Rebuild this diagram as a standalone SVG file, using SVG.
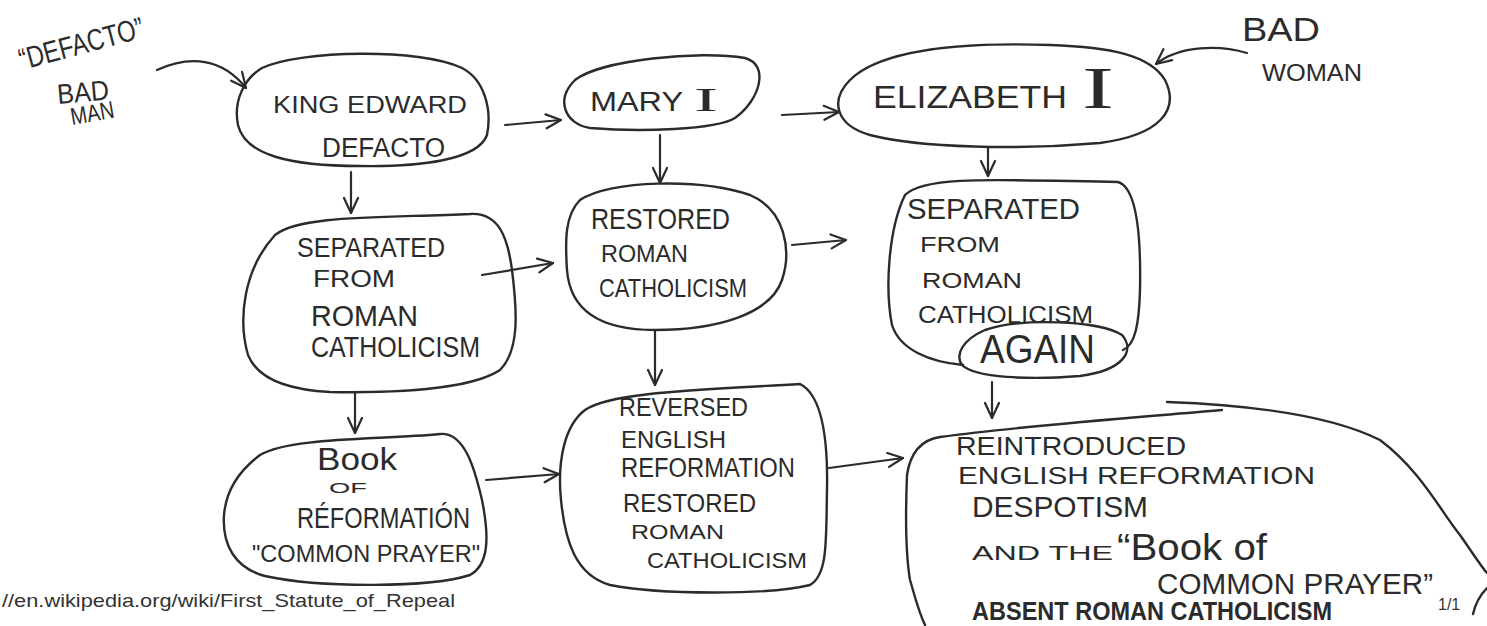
<svg xmlns="http://www.w3.org/2000/svg" width="1487" height="626" viewBox="0 0 1487 626">
<style>
.shape{fill:none;stroke:#2b2b2b;stroke-width:2.4;stroke-linecap:round;stroke-linejoin:round}
.conn{fill:none;stroke:#2b2b2b;stroke-width:2.2;stroke-linecap:round}
.hand{font-family:"Liberation Sans",Arial,sans-serif;fill:#2b2b2b}
.roman{font-family:"Liberation Serif","Times New Roman",serif;fill:#2b2b2b}
.print{font-family:"Liberation Sans",Arial,sans-serif;fill:#333}
</style>
<defs>
<marker id="v" viewBox="0 0 20 20" refX="18" refY="10" markerWidth="20" markerHeight="20" markerUnits="userSpaceOnUse" orient="auto">
<path d="M3,3 L18,10 L3,17" fill="none" stroke="#2b2b2b" stroke-width="2.2" stroke-linecap="round" stroke-linejoin="round"/>
</marker>
</defs>
<rect width="1487" height="626" fill="#fff"/>

<g id="label-defacto">
<text class="hand" transform="translate(22,70) rotate(-15)" font-size="30" textLength="128" lengthAdjust="spacingAndGlyphs">“DEFACTO”</text>
<text class="hand" transform="translate(58,104) rotate(-5)" font-size="28" textLength="52" lengthAdjust="spacingAndGlyphs">BAD</text>
<text class="hand" transform="translate(72,125) rotate(-10)" font-size="24" textLength="44" lengthAdjust="spacingAndGlyphs">MAN</text>
</g>

<g id="label-badwoman">
<text class="hand" x="1242" y="41" font-size="34" textLength="78" lengthAdjust="spacingAndGlyphs">BAD</text>
<text class="hand" x="1262" y="81" font-size="24" textLength="100" lengthAdjust="spacingAndGlyphs">WOMAN</text>
</g>

<g id="n-edward">
<path class="shape" d="M262,68 C300,50 420,48 462,68 C485,80 492,110 487,135 C478,160 420,167 360,166 C290,166 245,155 238,125 C233,100 245,78 262,68 Z"/>
<text class="hand" x="273" y="113" font-size="23" textLength="194" lengthAdjust="spacingAndGlyphs">KING EDWARD</text>
<text class="hand" x="322" y="157" font-size="27" textLength="123" lengthAdjust="spacingAndGlyphs">DEFACTO</text>
</g>

<g id="n-mary">
<path class="shape" d="M575,80 C600,60 700,50 745,58 C770,65 760,100 735,118 C715,130 640,132 590,128 C565,124 555,100 575,80 Z"/>
<text class="hand" x="590" y="111" font-size="28" textLength="93" lengthAdjust="spacingAndGlyphs">MARY</text>
<text class="roman" x="694" y="111" font-size="34" textLength="24" lengthAdjust="spacingAndGlyphs">I</text>
</g>

<g id="n-elizabeth">
<path class="shape" d="M850,80 C880,50 960,42 1050,45 C1110,47 1150,55 1165,80 C1180,110 1160,135 1100,143 C1020,150 920,148 870,135 C835,125 830,100 850,80 Z"/>
<text class="hand" x="873" y="108" font-size="32" textLength="194" lengthAdjust="spacingAndGlyphs">ELIZABETH</text>
<text class="roman" x="1082" y="108" font-size="60" textLength="32" lengthAdjust="spacingAndGlyphs">I</text>
</g>

<g id="n-separated">
<path class="shape" d="M275,235 C300,215 380,218 470,214 C500,212 508,240 512,270 C517,310 520,350 500,370 C470,390 390,393 330,392 C290,390 258,380 248,355 C238,320 243,270 275,235 Z"/>
<text class="hand" x="297" y="257" font-size="28" textLength="148" lengthAdjust="spacingAndGlyphs">SEPARATED</text>
<text class="hand" x="313" y="287" font-size="24" textLength="82" lengthAdjust="spacingAndGlyphs">FROM</text>
<text class="hand" x="311" y="326" font-size="30" textLength="107" lengthAdjust="spacingAndGlyphs">ROMAN</text>
<text class="hand" x="311" y="357" font-size="30" textLength="169" lengthAdjust="spacingAndGlyphs">CATHOLICISM</text>
</g>

<g id="n-restored">
<path class="shape" d="M580,200 C610,180 700,178 750,195 C785,210 792,250 782,280 C770,315 715,330 655,330 C600,330 570,310 567,270 C565,240 565,215 580,200 Z"/>
<text class="hand" x="591" y="229" font-size="30" textLength="139" lengthAdjust="spacingAndGlyphs">RESTORED</text>
<text class="hand" x="601" y="262" font-size="24" textLength="87" lengthAdjust="spacingAndGlyphs">ROMAN</text>
<text class="hand" x="599" y="297" font-size="26" textLength="148" lengthAdjust="spacingAndGlyphs">CATHOLICISM</text>
</g>

<g id="n-separated-again">
<path class="shape" d="M963,365 C930,362 900,350 892,325 C885,290 888,230 905,195 C925,175 1000,180 1118,182 C1138,188 1141,240 1140,290 C1139,325 1135,345 1123,350"/>
<path class="shape" d="M962,365 C955,355 962,340 985,330 C1020,318 1100,320 1122,335 C1135,350 1125,370 1080,376 C1030,380 975,378 962,365 Z"/>
<text class="hand" x="907" y="219" font-size="29" textLength="173" lengthAdjust="spacingAndGlyphs">SEPARATED</text>
<text class="hand" x="920" y="252" font-size="22" textLength="80" lengthAdjust="spacingAndGlyphs">FROM</text>
<text class="hand" x="922" y="288" font-size="22" textLength="100" lengthAdjust="spacingAndGlyphs">ROMAN</text>
<text class="hand" x="918" y="323" font-size="23" textLength="175" lengthAdjust="spacingAndGlyphs">CATHOLICISM</text>
<text class="hand" x="980" y="363" font-size="40" textLength="115" lengthAdjust="spacingAndGlyphs">AGAIN</text>
</g>

<g id="n-book">
<path class="shape" d="M260,455 C290,437 380,440 440,434 C465,432 475,470 482,500 C490,540 488,565 470,575 C430,588 320,588 265,576 C235,568 222,545 224,515 C226,490 240,470 260,455 Z"/>
<text class="hand" x="317" y="470" font-size="32" textLength="80" lengthAdjust="spacingAndGlyphs">Book</text>
<text class="hand" x="329" y="493" font-size="14" textLength="38" lengthAdjust="spacingAndGlyphs">OF</text>
<text class="hand" x="297" y="528" font-size="30" textLength="173" lengthAdjust="spacingAndGlyphs">RÉFORMATIÓN</text>
<text class="hand" x="252" y="562" font-size="24" textLength="228" lengthAdjust="spacingAndGlyphs">"COMMON PRAYER"</text>
</g>

<g id="n-reversed">
<path class="shape" d="M585,410 C610,392 700,390 800,384 C822,395 828,440 827,490 C826,540 828,575 810,585 C770,595 660,595 610,585 C575,575 565,540 561,500 C557,460 565,425 585,410 Z"/>
<text class="hand" x="619" y="416" font-size="26" textLength="129" lengthAdjust="spacingAndGlyphs">REVERSED</text>
<text class="hand" x="621" y="448" font-size="24" textLength="105" lengthAdjust="spacingAndGlyphs">ENGLISH</text>
<text class="hand" x="621" y="477" font-size="27" textLength="174" lengthAdjust="spacingAndGlyphs">REFORMATION</text>
<text class="hand" x="623" y="512" font-size="25" textLength="133" lengthAdjust="spacingAndGlyphs">RESTORED</text>
<text class="hand" x="631" y="539" font-size="20" textLength="93" lengthAdjust="spacingAndGlyphs">ROMAN</text>
<text class="hand" x="647" y="568" font-size="22" textLength="160" lengthAdjust="spacingAndGlyphs">CATHOLICISM</text>
</g>

<g id="n-reintroduced">
<path class="shape" d="M925,625 C918,610 916,600 910,580 C905,550 906,500 907,475 C910,455 920,440 940,437 C1030,425 1130,418 1222,410"/>
<path class="shape" d="M1167,402 C1250,405 1330,415 1380,440 C1420,470 1440,510 1460,535 C1472,552 1480,565 1487,573"/>
<path class="shape" d="M1487,588 C1480,595 1475,605 1473,614"/>
<text class="hand" x="956" y="455" font-size="26" textLength="230" lengthAdjust="spacingAndGlyphs">REINTRODUCED</text>
<text class="hand" x="958" y="484" font-size="24" textLength="357" lengthAdjust="spacingAndGlyphs">ENGLISH REFORMATION</text>
<text class="hand" x="972" y="517" font-size="30" textLength="176" lengthAdjust="spacingAndGlyphs">DESPOTISM</text>
<text class="hand" x="972" y="560" font-size="20" textLength="141" lengthAdjust="spacingAndGlyphs">AND THE</text>
<text class="hand" x="1117" y="560" font-size="36" textLength="150" lengthAdjust="spacingAndGlyphs">“Book of</text>
<text class="hand" x="1157" y="594" font-size="30" textLength="276" lengthAdjust="spacingAndGlyphs">COMMON PRAYER”</text>
<text class="hand" x="972" y="620" font-size="26" font-weight="bold" textLength="360" lengthAdjust="spacingAndGlyphs">ABSENT ROMAN CATHOLICISM</text>
</g>

<g id="connectors">
<path class="conn" marker-end="url(#v)" d="M157,70 C190,55 222,58 246,88"/>
<path class="conn" marker-end="url(#v)" d="M1247,53 C1220,45 1180,45 1156,64"/>
<path class="conn" marker-end="url(#v)" d="M505,125 L561,120"/>
<path class="conn" marker-end="url(#v)" d="M782,115 L839,112"/>
<path class="conn" marker-end="url(#v)" d="M351,172 L351,213"/>
<path class="conn" marker-end="url(#v)" d="M660,135 L660,183"/>
<path class="conn" marker-end="url(#v)" d="M988,148 L988,176"/>
<path class="conn" marker-end="url(#v)" d="M482,275 L553,263"/>
<path class="conn" marker-end="url(#v)" d="M792,245 L846,240"/>
<path class="conn" marker-end="url(#v)" d="M355,393 L355,433"/>
<path class="conn" marker-end="url(#v)" d="M655,331 L655,385"/>
<path class="conn" marker-end="url(#v)" d="M992,382 L992,418"/>
<path class="conn" marker-end="url(#v)" d="M486,480 L559,474"/>
<path class="conn" marker-end="url(#v)" d="M829,468 L903,458"/>
</g>

<text class="print" x="2" y="607" font-size="19" textLength="453" lengthAdjust="spacingAndGlyphs">//en.wikipedia.org/wiki/First_Statute_of_Repeal</text>
<text class="print" x="1438" y="610" font-size="16">1/1</text>
</svg>
